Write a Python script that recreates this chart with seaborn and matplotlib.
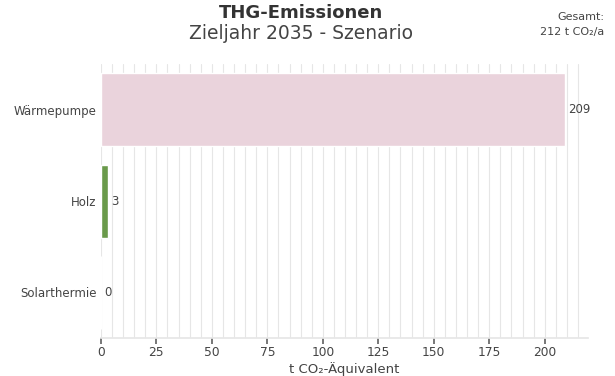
import matplotlib
matplotlib.use("Agg")
import matplotlib.pyplot as plt
import seaborn as sns
import pandas as pd
import numpy as np

categories = ["Wärmepumpe", "Holz", "Solarthermie"]
values = [209, 3, 0]
colors = ["#EAD3DC", "#6A9A4B", "#4E79A7"]
total_label = "212 t CO₂/a"

sns.set_theme(style="white")
plt.rcParams["font.family"] = ["DejaVu Sans"]

df = pd.DataFrame({"Energieträger": categories, "Emission": values})

fig = plt.figure(figsize=(6.15, 3.76), dpi=100)
ax = fig.add_axes([0.164, 0.101, 0.792, 0.728])

sns.barplot(data=df, y="Energieträger", x="Emission", hue="Energieträger",
            palette=colors, orient="h", width=0.8, legend=False, ax=ax,
            saturation=1, zorder=2)

xmax = max(values) * 1.05
ax.set_xlim(0, xmax)
ax.set_xticks(np.arange(0, 201, 25))
ax.set_xticks(np.arange(0, xmax, 5), minor=True)
ax.grid(True, axis="x", which="both", color="#E6E6E6", linewidth=0.8, zorder=0)
ax.grid(False, axis="y")
ax.set_axisbelow(True)

for s in ["top", "right", "left"]:
    ax.spines[s].set_visible(False)
ax.spines["bottom"].set_color("#E6E6E6")
ax.tick_params(axis="x", which="major", length=4, color="#666666",
               labelsize=8.8, labelcolor="#444444", pad=2, bottom=True)
ax.tick_params(axis="x", which="minor", length=0)
ax.tick_params(axis="y", length=0, labelsize=8.5, labelcolor="#444444", pad=3)
ax.set_ylabel("")
ax.set_xlabel("t CO₂-Äquivalent", fontsize=9.5, color="#444444", labelpad=2)

for i, v in enumerate(values):
    ax.text(v + 1.5, i, f"{v}", va="center", ha="left", fontsize=8.5, color="#444444")

fig.text(0.49, 0.965, "THG-Emissionen", ha="center", va="center",
         fontsize=13, fontweight="bold", color="#333333")
fig.text(0.49, 0.912, "Zieljahr 2035 - Szenario", ha="center", va="center",
         fontsize=13.5, color="#444444")
fig.text(0.983, 0.955, "Gesamt:", ha="right", va="center", fontsize=8, color="#444444")
fig.text(0.983, 0.916, total_label, ha="right", va="center", fontsize=8, color="#444444")

fig.savefig("out.png", dpi=100)
